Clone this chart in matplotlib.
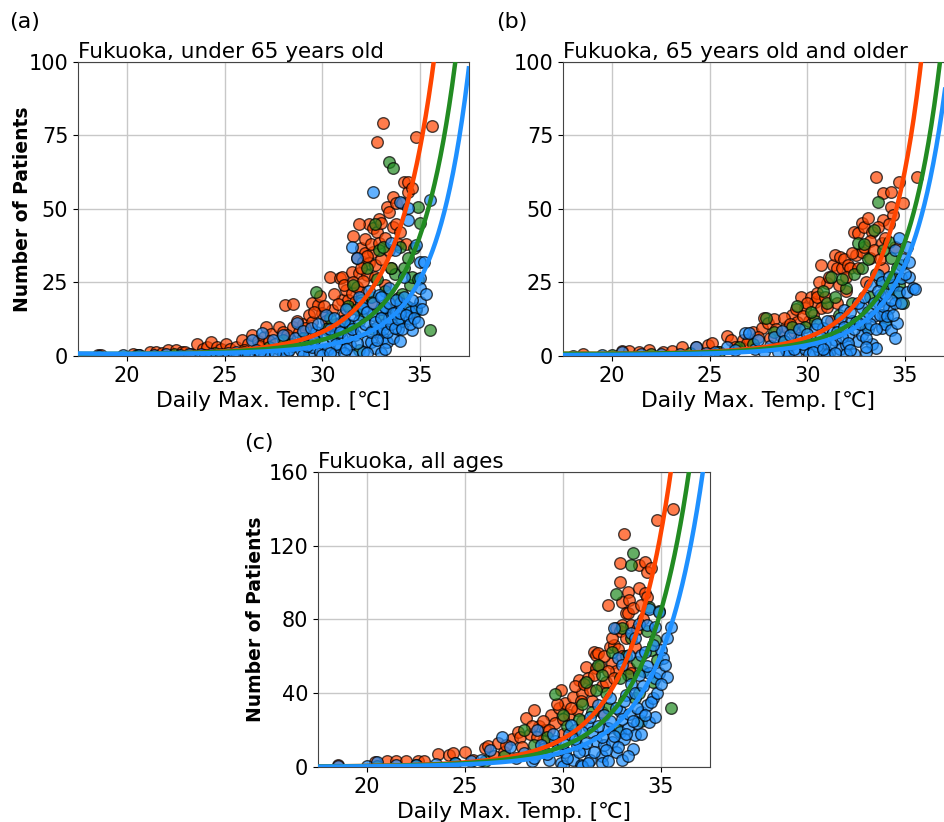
import numpy as np
import matplotlib
matplotlib.use('Agg')
import matplotlib.pyplot as plt

# colours of the three groups (points + fitted curves)
colors = ['orangered', 'forestgreen', 'dodgerblue']

# ---------------- panel (a): under 65 ----------------
a_orange = [(18.5,0.4),(18.7,0.4),(20.3,0.5),(20.6,0.4),(21.2,1.3),(21.5,1.5),(21.8,1.0),(22.1,2.0),(22.5,2.0),
            (22.8,1.2),(23.0,1.5),(23.3,0.8),(23.6,4.1),(23.9,2.5),(24.1,3.2),(24.3,4.9),(24.6,3.2),(24.8,2.2),
            (25.1,4.1),(25.3,2.5),(25.6,3.0),(25.9,5.4),(26.2,4.0),(26.4,7.1),(26.7,5.0),(27.0,6.5),(27.1,9.9),
            (27.4,7.5),(27.8,9.9),(28.0,8.2),(28.1,17.3),(28.3,6.0),(28.5,17.7),(28.5,9.9),(28.8,8.0),(29.0,11.0),
            (29.3,13.9),(29.5,11.7),(29.5,17.9),(29.8,17.3),(29.9,20.3),(30.0,14.5),(30.2,12.0),(30.4,27.0),
            (30.5,15.5),(30.7,11.0),(30.9,26.5),(31.0,27.0),(31.0,19.0),(31.2,22.5),(31.3,19.1),(31.5,28.7),
            (31.5,21.3),(31.6,40.9),(31.7,18.5),(31.8,33.2),(31.9,28.1),(32.0,36.6),(32.0,21.9),(32.1,32.1),
            (32.2,39.8),(32.2,35.0),(32.3,27.6),(32.4,44.8),(32.4,31.5),(32.6,43.4),(32.6,35.5),(32.7,27.0),
            (32.8,42.3),(32.8,72.9),(32.9,46.6),(33.0,45.2),(33.1,79.2),(33.3,50.8),(33.4,49.1),(33.6,54.2),
            (33.8,52.0),(33.9,38.0),(34.2,59.3),(34.4,55.9),(34.4,59.0),(34.6,57.0),(34.8,74.3),(35.6,78.2),
            (33.5,30.0),(33.2,24.0),(32.5,18.0),(31.1,14.0),(30.3,9.5),(29.7,7.0),
            (26.0,2.0),(26.8,3.5),(27.3,5.0),(27.6,4.0),(28.2,7.0),(28.7,12.0),(29.1,9.5),(29.6,15.0),(30.1,17.0),
            (30.6,21.0),(30.8,17.5),(31.1,24.0),(31.4,16.0),(31.6,25.0),(31.8,23.5),(32.0,30.0),(32.1,25.5),
            (32.3,34.0),(32.5,38.0),(32.7,31.0),(32.9,38.5),(33.0,33.0),(33.2,40.0),(33.4,36.0),(33.6,44.0),
            (33.8,45.0),(34.0,42.0),(34.1,52.0),(34.3,38.0),(31.9,45.0)]
a_green = [(20.5,0.3),(22.4,0.5),(24.5,1.0),(26.0,1.5),(27.3,3.0),(28.0,5.5),(28.4,4.0),(29.0,6.0),(29.7,21.8),
           (30.2,9.0),(30.6,7.0),(31.0,12.0),(31.3,17.0),(31.6,24.2),(31.9,2.1),(32.0,14.0),(32.3,30.0),
           (32.5,20.0),(32.7,44.8),(32.9,36.0),(33.1,37.2),(33.3,16.0),(33.4,66.1),(33.6,63.9),(33.7,28.0),
           (33.9,11.1),(33.9,19.6),(34.2,29.8),(34.4,33.2),(34.5,24.0),(34.7,36.6),(34.8,15.7),(34.9,50.8),
           (35.0,45.1),(35.5,8.9),(34.1,21.0),(32.6,9.0),
           (30.4,13.0),(31.4,10.0),(32.0,19.0),(32.8,26.0),(33.2,22.0),(33.5,30.0),(34.0,37.0),(34.3,17.0),
           (34.6,27.0),(34.9,26.0),(33.0,13.0),(31.8,16.0)]
a_blue = [(18.6,0.1),(19.8,0.3),(20.6,0.2),(21.4,0.4),(22.0,0.5),(22.7,0.3),(23.2,0.6),(23.8,0.5),(24.3,0.8),
          (24.8,0.6),(25.2,1.0),(25.6,1.5),(26.0,0.8),(26.4,5.4),(26.6,2.0),(26.9,7.7),(27.2,1.5),(27.5,5.4),
          (27.8,2.5),(28.0,7.1),(28.2,1.0),(28.5,3.5),(28.7,11.1),(28.9,2.0),(29.1,5.0),(29.3,0.8),(29.5,3.0),
          (29.7,8.0),(29.9,1.5),(30.0,4.5),(30.2,14.0),(30.3,2.5),(30.5,6.5),(30.6,0.5),(30.8,10.0),(30.9,3.0),
          (31.0,6.0),(31.2,16.0),(31.4,10.6),(31.4,3.8),(31.5,36.9),(31.5,0.4),(31.7,7.2),(31.8,33.2),(31.9,12.0),
          (32.0,18.0),(32.1,16.2),(32.1,1.5),(32.3,5.0),(32.4,22.0),(32.5,4.9),(32.6,55.9),(32.6,14.0),(32.7,2.6),
          (32.8,10.0),(32.9,8.3),(32.9,20.8),(33.0,16.0),(33.1,6.0),(33.2,11.0),(33.3,4.9),(33.4,12.8),(33.4,23.0),
          (33.5,38.3),(33.6,6.1),(33.7,36.1),(33.8,15.0),(33.9,9.0),(34.0,52.5),(34.0,18.0),(34.1,12.0),(34.2,27.0),
          (34.4,50.2),(34.4,16.8),(34.4,12.8),(34.4,46.3),(34.5,15.1),(34.6,8.9),(34.8,37.8),(34.8,16.2),(35.0,18.5),
          (35.0,26.4),(35.0,31.9),(35.0,23.1),(35.2,31.9),(35.3,21.0),(35.5,53.1),(31.1,1.0),(30.0,0.3),(33.0,1.0),
          (29.0,0.4),(27.0,0.3),(28.0,0.5),
          (28.3,2.0),(28.6,6.0),(29.0,8.5),(29.2,3.5),(29.4,9.5),(29.6,5.5),(29.8,11.0),(30.1,7.5),(30.4,9.0),
          (30.6,13.0),(30.7,4.0),(30.9,8.0),(31.1,12.0),(31.3,6.5),(31.5,9.0),(31.6,14.0),(31.8,4.5),(31.9,20.0),
          (32.0,8.5),(32.2,11.0),(32.3,15.0),(32.5,8.0),(32.6,18.0),(32.7,11.5),(32.8,5.5),(33.0,13.0),(33.0,20.0),
          (33.1,9.0),(33.2,16.5),(33.3,8.0),(33.4,18.0),(33.5,11.0),(33.6,14.5),(33.7,9.5),(33.8,19.0),(33.9,12.5),
          (34.0,14.5),(34.1,9.0),(34.2,20.0),(34.3,14.0),(34.5,11.0),(34.6,19.0),(34.7,13.0),(34.9,11.5),(35.1,16.0),
          (34.0,5.0),(33.2,2.5),(32.3,1.0),(30.4,1.0),(31.2,2.5),(24.0,0.3),(25.5,0.4),(26.2,0.6),(26.8,1.2),
          (27.6,1.0)]

# ---------------- panel (b): 65 and older ----------------
b_orange = [(18.5,0.7),(20.5,1.7),(20.9,1.8),(21.4,1.5),(21.9,2.0),(22.6,1.5),(23.1,1.7),(23.6,2.9),(24.3,2.9),
            (24.9,3.7),(25.1,4.3),(25.5,1.5),(25.9,6.8),(26.1,5.4),(26.7,5.4),(27.0,5.6),(27.2,8.0),(27.7,9.4),
            (27.8,12.8),(28.0,11.1),(28.3,12.5),(28.6,7.0),(28.9,10.0),(29.2,14.0),(29.5,11.5),(29.7,20.2),
            (29.9,16.4),(30.1,12.0),(30.2,20.2),(30.4,18.5),(30.5,21.4),(30.5,20.2),(30.7,31.0),(30.7,16.2),
            (31.0,24.7),(31.0,16.8),(31.3,31.0),(31.4,34.4),(31.5,29.8),(31.7,33.8),(31.8,29.8),(31.9,33.0),
            (32.1,31.0),(32.2,29.8),(32.4,42.3),(32.5,34.4),(32.6,41.7),(32.8,45.1),(32.8,35.5),(32.9,44.0),
            (33.1,46.8),(33.2,33.2),(33.3,42.3),(33.5,61.0),(33.8,38.3),(33.9,55.3),(33.9,46.3),(33.9,29.8),
            (34.3,55.9),(34.3,50.8),(34.4,48.0),(34.7,59.1),(35.6,61.0),(32.0,22.0),(31.5,18.0),(30.3,14.0),
            (29.3,8.0),(28.1,6.0),(33.0,25.0),(31.2,12.0),
            (26.3,3.0),(26.9,4.5),(27.5,6.5),(28.4,9.0),(28.8,13.0),(29.1,11.0),(29.4,16.0),(29.8,13.5),(30.0,18.0),
            (30.6,25.0),(30.9,20.0),(31.1,27.0),(31.6,24.0),(32.0,27.0),(32.3,35.0),(32.6,30.0),(32.9,37.0),
            (33.2,39.0),(33.4,36.0),(33.6,44.0),(33.7,33.0),(34.0,40.0),(34.2,45.0),(34.5,37.0),(34.9,52.0)]
b_green = [(20.0,0.3),(22.0,0.5),(24.0,1.0),(25.5,1.5),(26.5,3.0),(27.2,4.0),(27.9,12.8),(28.3,8.0),(28.8,5.0),
           (29.5,17.0),(29.9,10.0),(30.4,12.0),(31.0,17.9),(31.2,27.0),(31.6,14.0),(32.0,23.0),(32.3,18.0),
           (32.6,38.3),(32.9,38.0),(33.2,20.0),(33.4,42.9),(33.6,52.5),(33.8,25.0),(34.2,38.9),(34.3,33.2),
           (34.3,23.0),(34.6,20.8),(34.8,31.0),(34.9,17.9),(34.0,12.0),(33.0,10.0),
           (29.2,10.0),(30.2,15.0),(30.8,22.0),(31.4,20.0),(31.8,26.0),(32.4,28.0),(32.8,30.0),(33.1,33.0),
           (33.5,28.0),(33.9,36.0),(34.4,27.0),(34.7,24.0)]
b_blue = [(18.0,0.1),(19.5,0.2),(20.5,1.2),(21.5,0.5),(22.5,0.5),(23.5,0.8),(24.3,3.2),(24.8,1.0),(25.3,1.5),
          (25.9,3.2),(26.3,2.0),(26.8,7.7),(27.0,7.7),(27.3,2.5),(27.5,5.4),(27.8,1.5),(28.1,3.5),(28.3,6.4),
          (28.7,8.4),(28.9,2.0),(29.2,4.0),(29.4,1.0),(29.6,6.0),(29.9,2.5),(30.1,0.5),(30.2,5.0),(30.4,9.0),
          (30.6,2.0),(30.8,9.4),(30.9,4.5),(31.1,1.0),(31.3,8.3),(31.4,5.5),(31.6,10.6),(31.7,2.5),(31.9,15.7),
          (32.0,3.8),(32.1,7.0),(32.3,12.0),(32.4,0.8),(32.5,11.7),(32.6,5.0),(32.8,16.2),(32.8,7.2),(33.0,12.8),
          (33.1,9.0),(33.2,24.2),(33.3,4.0),(33.5,2.6),(33.6,27.6),(33.6,18.5),(33.7,20.8),(33.8,9.4),(33.8,25.3),
          (33.9,14.0),(34.0,11.0),(34.2,16.2),(34.3,8.9),(34.4,24.2),(34.5,36.1),(34.5,17.9),(34.6,11.1),
          (34.7,21.9),(34.7,40.0),(34.8,26.4),(35.1,36.9),(35.1,21.9),(35.2,26.8),(35.4,23.0),(35.5,22.7),
          (31.0,0.3),(32.0,0.5),(29.0,0.3),(33.0,1.5),(31.8,6.5),(30.5,3.5),(33.4,13.5),
          (28.5,1.5),(28.8,5.0),(29.1,7.0),(29.3,2.5),(29.6,9.0),(29.8,4.0),(30.0,7.5),(30.3,1.5),(30.5,11.0),
          (30.7,6.5),(31.0,12.0),(31.2,4.0),(31.5,8.0),(31.7,13.0),(31.9,10.0),(32.1,4.5),(32.2,15.0),(32.4,9.0),
          (32.6,18.0),(32.7,11.0),(32.9,20.0),(33.0,6.0),(33.1,15.0),(33.2,11.0),(33.4,18.0),(33.5,9.0),
          (33.6,22.0),(33.7,14.0),(33.9,17.0),(34.0,21.0),(34.1,13.5),(34.2,27.0),(34.3,19.0),(34.4,14.0),
          (34.6,30.0),(34.8,18.0),(34.9,33.0),(35.0,28.0),(35.2,32.0),(33.0,3.0),(32.2,2.0),(31.4,1.0),(30.8,2.5),
          (34.5,6.0)]

# ---------------- panel (c): all ages ----------------
c_orange = [(18.5,1.1),(20.4,2.6),(21.0,3.5),(21.5,3.1),(22.0,3.1),(22.6,3.1),(22.9,3.1),(23.6,7.1),(24.2,6.6),
            (24.4,7.4),(25.0,8.3),(25.4,4.0),(26.0,10.1),(26.2,11.4),(26.7,12.8),(27.0,8.0),(27.4,15.0),
            (27.7,19.2),(27.8,16.5),(28.1,26.4),(28.3,18.0),(28.5,30.9),(28.8,22.0),(29.1,20.0),(29.4,28.2),
            (29.6,24.0),(29.8,31.8),(29.9,42.0),(30.1,34.5),(30.3,28.0),(30.5,38.0),(30.7,31.0),(30.8,47.2),
            (31.0,40.0),(31.2,54.4),(31.3,48.1),(31.5,36.0),(31.6,62.6),(31.7,60.8),(31.7,53.5),(31.8,62.0),
            (32.0,44.0),(32.2,46.3),(32.3,87.9),(32.4,65.3),(32.5,56.2),(32.6,66.2),(32.7,75.2),(32.7,52.0),
            (32.9,110.5),(32.9,73.8),(32.9,100.5),(33.0,89.7),(33.0,77.0),(33.1,126.4),(33.2,83.4),(33.3,83.4),
            (33.3,95.1),(33.4,90.6),(33.4,53.5),(33.5,50.8),(33.9,109.6),(33.9,96.9),(34.2,111.4),(34.2,94.2),
            (34.3,106.0),(34.3,92.4),(34.5,107.8),(34.8,133.8),(35.6,139.9),(33.7,65.0),(32.0,30.0),(31.0,25.0),
            (30.0,18.0),(29.0,14.0),
            (26.5,6.0),(27.1,12.0),(27.9,11.0),(28.4,22.0),(28.7,16.0),(29.0,25.0),(29.3,20.0),(29.7,34.0),
            (30.0,26.0),(30.4,32.0),(30.6,44.0),(30.9,36.0),(31.1,45.0),(31.4,42.0),(31.6,50.0),(31.9,55.0),
            (32.1,60.0),(32.3,52.0),(32.5,70.0),(32.6,48.0),(32.8,64.0),(33.0,60.0),(33.2,70.0),(33.5,77.0),
            (33.6,86.0),(33.8,75.0),(34.0,88.0),(34.1,80.0)]
c_green = [(20.5,0.5),(22.5,1.0),(24.5,2.0),(26.0,3.5),(27.0,6.0),(28.0,20.1),(28.5,12.0),(29.2,16.0),(29.6,39.6),
           (30.2,22.0),(30.8,26.0),(31.2,46.3),(31.5,30.0),(31.8,55.3),(32.2,40.0),(32.5,62.6),(32.7,93.7),
           (33.0,75.2),(33.3,50.0),(33.5,109.6),(33.6,115.9),(33.7,37.3),(33.8,57.2),(33.9,40.0),(34.4,87.0),
           (34.5,63.5),(34.6,46.3),(34.7,68.9),(34.9,84.8),(35.5,32.2),(34.0,25.0),(32.8,20.0),
           (30.0,28.0),(30.6,20.0),(31.0,34.0),(31.7,42.0),(32.0,50.0),(32.3,32.0),(32.9,48.0),(33.2,60.0),
           (33.5,70.0),(34.1,52.0),(34.3,74.0),(34.8,58.0)]
c_blue = [(18.5,0.3),(20.0,0.5),(20.5,2.6),(21.5,1.0),(22.5,1.0),(23.5,1.5),(24.5,2.0),(25.3,3.0),(25.8,4.0),
          (26.3,9.2),(26.9,16.4),(27.3,11.0),(27.6,5.0),(28.0,7.5),(28.4,3.0),(28.7,20.1),(29.0,10.0),(29.3,4.0),
          (29.6,14.0),(29.9,2.0),(30.1,8.0),(30.3,18.0),(30.5,4.0),(30.7,12.0),(30.9,1.0),(31.1,9.3),(31.3,22.0),
          (31.4,3.8),(31.5,19.2),(31.7,14.0),(31.8,33.7),(32.0,6.0),(32.1,12.0),(32.3,21.0),(32.4,37.3),(32.5,13.8),
          (32.6,75.2),(32.7,8.0),(32.8,59.0),(32.9,30.1),(32.9,19.2),(33.0,55.3),(33.1,15.0),(33.2,39.1),(33.3,21.0),
          (33.4,60.8),(33.5,72.5),(33.6,10.0),(33.7,69.8),(33.7,17.4),(33.8,23.7),(33.9,77.4),(34.0,60.8),(34.0,30.0),
          (34.2,62.6),(34.3,77.0),(34.3,33.7),(34.4,85.7),(34.4,50.8),(34.4,24.6),(34.6,37.3),(34.7,76.1),(34.7,48.1),
          (34.7,27.3),(34.9,84.3),(34.9,50.8),(35.0,63.5),(35.1,59.0),(35.2,55.3),(35.3,49.0),(35.5,76.1),(31.0,0.5),
          (32.0,2.0),(33.0,4.0),(30.0,0.5),
          (28.5,5.0),(28.9,12.0),(29.2,7.0),(29.5,18.0),(29.7,9.0),(30.0,13.0),(30.2,5.0),(30.4,23.0),(30.6,15.0),
          (30.8,8.0),(31.0,19.0),(31.2,13.0),(31.4,27.0),(31.6,8.0),(31.8,22.0),(32.0,16.0),(32.1,28.0),(32.2,9.0),
          (32.4,25.0),(32.6,17.0),(32.7,32.0),(32.8,11.0),(33.0,26.0),(33.1,36.0),(33.2,18.0),(33.4,29.0),
          (33.5,45.0),(33.6,25.0),(33.7,40.0),(33.8,32.0),(33.9,50.0),(34.0,18.0),(34.1,44.0),(34.2,28.0),
          (34.3,55.0),(34.5,35.0),(34.6,66.0),(34.8,40.0),(35.0,45.0),(35.3,70.0),(33.3,6.0),(32.3,3.0),(31.3,2.0)]

# fitted curves: points (temp, patients)
a_curves = [[(20,0.5),(25,1.5),(27.8,3.7),(30.2,10),(32.9,25),(34.3,50),(35.1,75),(35.7,100)],
            [(20,0.4),(25,1.2),(27.8,2.9),(30.2,8.2),(34.2,25),(35.55,50),(36.3,75),(36.7,100)],
            [(20,0.3),(25,1.0),(27.8,2.0),(30.2,5.0),(35.07,25),(36.4,50),(37.07,75),(37.45,100)]]
b_curves = [[(20,0.5),(27.5,2.3),(30.0,8.8),(33.4,25),(34.7,50),(35.35,75),(35.73,100)],
            [(20,0.4),(27.5,1.7),(30.0,7.1),(34.34,25),(35.6,50),(36.3,75),(36.7,100)],
            [(20,0.3),(27.5,0.9),(30.0,5.0),(34.76,25),(35.95,50),(36.63,75),(36.89,82)]]
c_curves = [[(20,0.8),(27.5,3.8),(30.0,14.6),(30.8,22.8),(32.2,40),(34.0,80),(35.0,120),(35.44,160)],
            [(20,0.6),(27.5,2.9),(30.0,11),(30.8,18.3),(33.2,40),(34.98,80),(35.9,120),(36.34,160)],
            [(20,0.4),(27.5,1.6),(30.0,8.3),(30.8,12.8),(34.05,40),(35.66,80),(36.6,120),(37.08,160)]]

titles = ['Fukuoka, under 65 years old', 'Fukuoka, 65 years old and older', 'Fukuoka, all ages']


def draw_panel(ax, groups, curves, ymax, yticks, title, ylabel_x=None):
    for pts, col in zip(groups, colors):
        p = np.array(pts)
        ax.scatter(p[:, 0], p[:, 1], s=70, c=col, alpha=0.7, edgecolors='black', linewidths=1, zorder=2)
    t = np.linspace(17.5, 37.5, 400)
    for cv, col in zip(curves, colors):
        c = np.array(cv)
        # log-quadratic fit, weighted towards the steep upper part
        coef = np.polyfit(c[:, 0], np.log(c[:, 1]), 2, w=np.sqrt(c[:, 1]))
        ax.plot(t, np.exp(np.polyval(coef, t)), color=col, lw=3.2, zorder=3)
    ax.set_xlim(17.5, 37.5)
    ax.set_ylim(0, ymax)
    ax.set_xticks([20, 25, 30, 35])
    ax.set_yticks(yticks)
    ax.grid(True, color='#c8c8c8', lw=1)
    ax.set_axisbelow(True)
    ax.tick_params(labelsize=15)
    for sp in ax.spines.values():
        sp.set_color('#444444')
    ax.set_title(title, loc='left', fontsize=15.5, pad=3)
    ax.set_xlabel('Daily Max. Temp. [℃]', fontsize=15.7)
    if ylabel_x is not None:
        ax.set_ylabel('Number of Patients', fontsize=13.5, fontweight='bold')
        ax.yaxis.set_label_coords(ylabel_x, 0.5)


fig = plt.figure(figsize=(9.44, 8.22), dpi=100)
ax_a = fig.add_axes([0.0826, 0.567, 0.414, 0.3577])
ax_b = fig.add_axes([0.5964, 0.567, 0.414, 0.3577])
ax_c = fig.add_axes([0.3369, 0.0669, 0.415, 0.359])

draw_panel(ax_a, [a_orange, a_green, a_blue], a_curves, 100, [0, 25, 50, 75, 100], titles[0], ylabel_x=-0.118)
draw_panel(ax_b, [b_orange, b_green, b_blue], b_curves, 100, [0, 25, 50, 75, 100], titles[1])
draw_panel(ax_c, [c_orange, c_green, c_blue], c_curves, 160, [0, 40, 80, 120, 160], titles[2], ylabel_x=-0.135)

fig.text(0.01, 1 - 22/822, '(a)', fontsize=16, va='center')
fig.text(0.526, 1 - 22/822, '(b)', fontsize=16, va='center')
fig.text(0.259, 1 - 443/822, '(c)', fontsize=16, va='center')

fig.savefig('out.png', dpi=100)
